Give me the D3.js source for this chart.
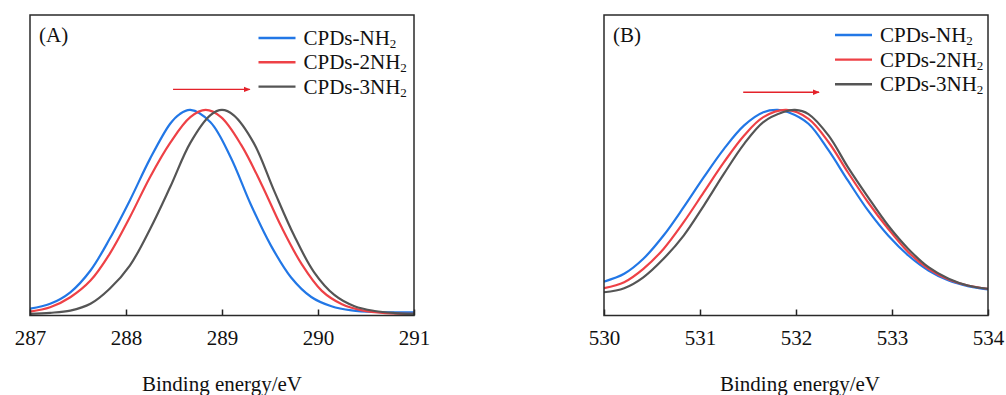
<!DOCTYPE html>
<html>
<head>
<meta charset="utf-8">
<script src="https://cdn.jsdelivr.net/npm/d3@7"></script>
<style>
  body { margin: 0; background: #fff; }
  svg text { font-family: "Liberation Serif", "Times New Roman", serif; fill: #111; }
</style>
</head>
<body>
<div id="chart"></div>
<script>
// ---- data (binding energy in eV, normalised intensity) ----
const seriesNames = ["CPDs-NH", "CPDs-2NH", "CPDs-3NH"];
const seriesColors = ["#2277e6", "#ee4146", "#555555"];

// panel A : C 1s
const aTicks = [287, 288, 289, 290, 291];
const aBlueE = [287.0, 287.21, 287.42, 287.63, 287.83, 288.04, 288.25, 288.46, 288.56, 288.67, 288.88, 289.09, 289.30, 289.51, 289.72, 289.93, 290.14, 290.35, 290.6, 291.0];
const aBlueI = [0.033, 0.057, 0.113, 0.219, 0.373, 0.56, 0.762, 0.933, 0.98, 1.0, 0.94, 0.77, 0.54, 0.34, 0.185, 0.09, 0.045, 0.025, 0.017, 0.015];
const aRedE  = [287.0, 287.21, 287.42, 287.63, 287.83, 288.04, 288.25, 288.46, 288.67, 288.83, 288.99, 289.2, 289.41, 289.62, 289.83, 290.04, 290.25, 290.46, 290.7, 291.0];
const aRedI  = [0.019, 0.04, 0.089, 0.17, 0.30, 0.478, 0.673, 0.84, 0.965, 1.0, 0.965, 0.83, 0.64, 0.43, 0.25, 0.12, 0.055, 0.025, 0.012, 0.008];
const aGrayE = [287.0, 287.21, 287.42, 287.63, 287.83, 288.04, 288.25, 288.46, 288.67, 288.88, 289.0, 289.12, 289.33, 289.54, 289.75, 289.96, 290.17, 290.38, 290.59, 290.8, 291.0];
const aGrayI = [0.008, 0.013, 0.024, 0.057, 0.13, 0.243, 0.42, 0.625, 0.84, 0.975, 1.0, 0.975, 0.84, 0.61, 0.39, 0.21, 0.1, 0.045, 0.022, 0.012, 0.008];

// panel B : O 1s
const bTicks = [530, 531, 532, 533, 534];
const bBlueE = [530.0, 530.21, 530.41, 530.62, 530.83, 531.04, 531.25, 531.46, 531.66, 531.81, 531.92, 532.13, 532.34, 532.54, 532.75, 532.96, 533.17, 533.38, 533.59, 533.79, 534.0];
const bBlueI = [0.165, 0.203, 0.276, 0.389, 0.527, 0.673, 0.811, 0.925, 0.989, 1.0, 0.989, 0.933, 0.803, 0.657, 0.511, 0.389, 0.292, 0.219, 0.170, 0.143, 0.127];
const bRedE  = [530.0, 530.21, 530.41, 530.62, 530.83, 531.04, 531.25, 531.46, 531.66, 531.90, 532.13, 532.34, 532.54, 532.75, 532.96, 533.17, 533.38, 533.59, 533.79, 534.0];
const bRedI  = [0.133, 0.162, 0.227, 0.324, 0.454, 0.60, 0.746, 0.876, 0.965, 1.0, 0.957, 0.843, 0.697, 0.551, 0.422, 0.308, 0.227, 0.175, 0.146, 0.13];
const bGrayE = [530.0, 530.21, 530.41, 530.62, 530.83, 531.04, 531.25, 531.46, 531.66, 531.87, 531.99, 532.13, 532.34, 532.54, 532.75, 532.96, 533.17, 533.38, 533.59, 533.79, 534.0];
const bGrayI = [0.113, 0.133, 0.186, 0.276, 0.389, 0.535, 0.69, 0.835, 0.941, 0.99, 1.0, 0.98, 0.875, 0.722, 0.576, 0.438, 0.324, 0.235, 0.179, 0.146, 0.13];

// shift arrows (energy from -> to, height)
const aArrow = [288.49, 289.29, 1.10];
const bArrow = [531.45, 532.24, 1.086];

const W = 1006, H = 395;
const fontSize = 21;

let svg = d3.select("#chart")
    .append("svg")
    .attr("width", W)
    .attr("height", H);

svg.append("defs").append("marker")
    .attr("id", "arrowhead")
    .attr("viewBox", "0 0 10 10")
    .attr("refX", 9).attr("refY", 5)
    .attr("markerWidth", 5).attr("markerHeight", 5)
    .attr("orient", "auto")
    .append("path")
    .attr("d", "M0,1 L10,5 L0,9 z")
    .attr("fill", "#e4222a");

function zip(es, is){
    return es.map((e, i) => ({ e: e, v: is[i] }));
}

function drawPanel(p){
    const top = 15, bottom = 315.5;

    let g = svg.append("g");

    let xScale = d3.scaleLinear()
        .domain(d3.extent(p.ticks))
        .range([p.left, p.right]);

    let yScale = d3.scaleLinear()
        .domain([0, 1.462])
        .range([bottom, top]);

    g.append("clipPath")
        .attr("id", p.id + "-clip")
        .append("rect")
        .attr("x", p.left).attr("y", top)
        .attr("width", p.right - p.left).attr("height", bottom - top);

    let line = d3.line()
        .x(d => xScale(d.e))
        .y(d => yScale(d.v))
        .curve(d3.curveCatmullRom.alpha(0.5));

    g.append("g")
        .attr("clip-path", `url(#${p.id}-clip)`)
        .selectAll("path")
        .data(p.series)
        .join("path")
        .attr("fill", "none")
        .attr("stroke", (d, i) => seriesColors[i])
        .attr("stroke-width", 2.2)
        .attr("d", line);

    //=== axis ===
    let xAxis = d3.axisBottom(xScale)
        .tickValues(p.ticks)
        .tickFormat(d3.format("d"))
        .tickSizeInner(-6)
        .tickSizeOuter(0)
        .tickPadding(14.6);

    let ax = g.append("g")
        .attr("transform", `translate(0,${bottom})`)
        .call(xAxis);
    ax.select(".domain").remove();
    ax.selectAll(".tick line").attr("stroke", "#222").attr("stroke-width", 1.5);
    ax.selectAll(".tick text")
        .attr("font-size", fontSize)
        .attr("font-family", "Liberation Serif, serif")
        .attr("fill", "#111");

    // frame
    g.append("rect")
        .attr("x", p.left).attr("y", top)
        .attr("width", p.right - p.left).attr("height", bottom - top)
        .attr("fill", "none")
        .attr("stroke", "#2a2a2a")
        .attr("stroke-width", 1.5);

    g.append("text")
        .attr("x", (p.left + p.right) / 2 + p.titleShift)
        .attr("y", 390.5)
        .attr("text-anchor", "middle")
        .attr("font-size", fontSize)
        .text("Binding energy/eV");

    g.append("text")
        .attr("x", p.left + 9)
        .attr("y", 41.5)
        .attr("font-size", fontSize)
        .text(p.label);

    // legend
    let leg = g.selectAll(".leg")
        .data(seriesNames)
        .join("g")
        .attr("class", "leg")
        .attr("transform", (d, i) => `translate(${p.left + p.legX},${p.legY + i * p.legGap})`);

    leg.append("line")
        .attr("x1", 0).attr("x2", 37)
        .attr("y1", -7).attr("y2", -7)
        .attr("stroke", (d, i) => seriesColors[i])
        .attr("stroke-width", 2.4);

    let lt = leg.append("text")
        .attr("x", 45)
        .attr("y", 0)
        .attr("font-size", fontSize);
    lt.append("tspan").text(d => d);
    lt.append("tspan")
        .attr("font-size", 13)
        .attr("dy", 3)
        .text("2");

    // shift arrow
    g.append("line")
        .attr("x1", xScale(p.arrow[0]))
        .attr("x2", xScale(p.arrow[1]))
        .attr("y1", yScale(p.arrow[2]))
        .attr("y2", yScale(p.arrow[2]))
        .attr("stroke", "#e4222a")
        .attr("stroke-width", 1.4)
        .attr("marker-end", "url(#arrowhead)");
}

drawPanel({
    id: "pa", label: "(A)", left: 30, right: 414, ticks: aTicks,
    series: [zip(aBlueE, aBlueI), zip(aRedE, aRedI), zip(aGrayE, aGrayI)],
    legX: 228.5, legY: 45, legGap: 24.3, arrow: aArrow, titleShift: 0
});

drawPanel({
    id: "pb", label: "(B)", left: 604, right: 988, ticks: bTicks,
    series: [zip(bBlueE, bBlueI), zip(bRedE, bRedI), zip(bGrayE, bGrayI)],
    legX: 231, legY: 42, legGap: 24.6, arrow: bArrow, titleShift: 4
});
</script>
</body>
</html>
